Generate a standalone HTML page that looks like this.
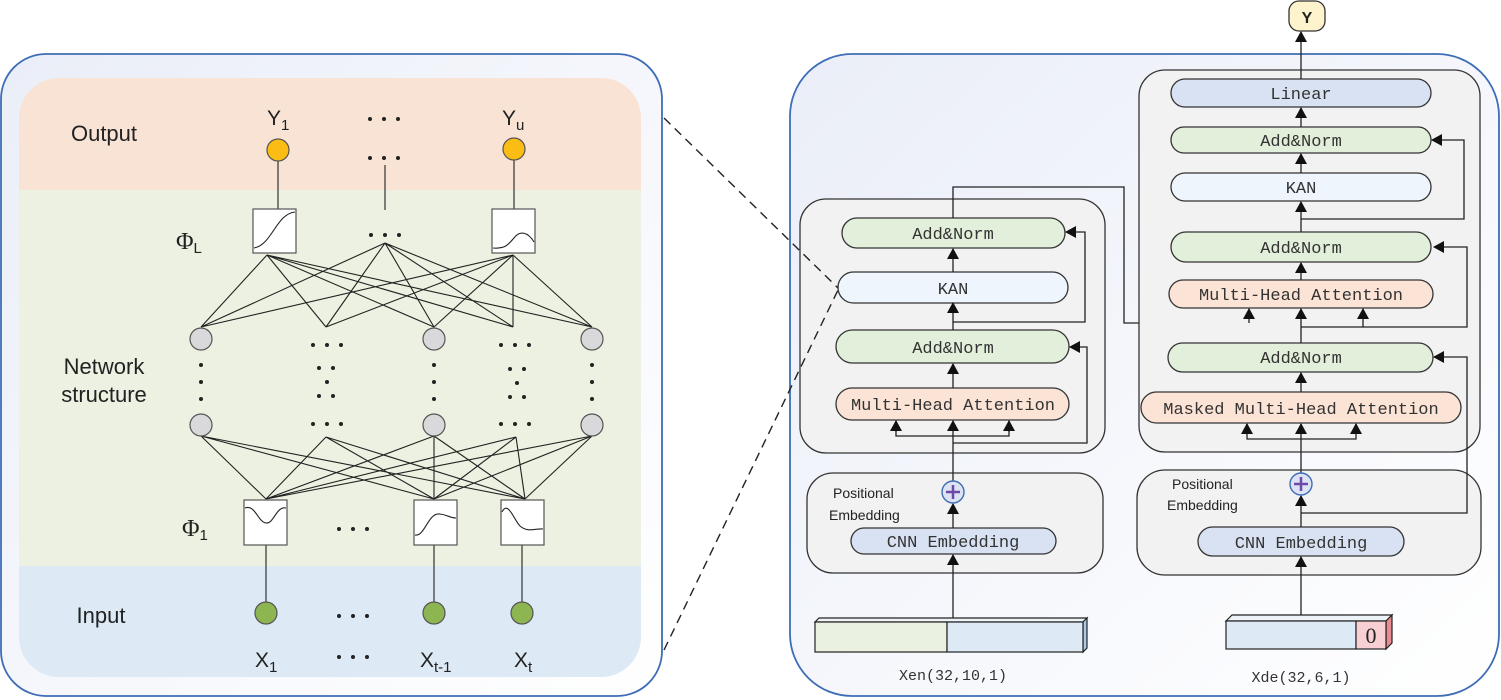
<!DOCTYPE html>
<html><head><meta charset="utf-8"><style>
html,body{margin:0;padding:0;background:#fff;}
svg{display:block;}
.pill{stroke:#333;stroke-width:1.3;}
.t{font-family:"Liberation Mono",monospace;font-size:17px;fill:#333;text-anchor:middle;}
.s{font-family:"Liberation Sans",sans-serif;}
</style></head><body>
<svg width="1501" height="700" viewBox="0 0 1501 700" xmlns="http://www.w3.org/2000/svg">
<defs>
<marker id="a" markerWidth="11" markerHeight="12" refX="10" refY="6" orient="auto" markerUnits="userSpaceOnUse"><path d="M0,0 L11,6 L0,12 z" fill="#111"/></marker>
<linearGradient id="bg" x1="0" y1="0" x2="1" y2="1"><stop offset="0" stop-color="#eaeef8"/><stop offset="1" stop-color="#ffffff"/></linearGradient>
<clipPath id="lc"><rect x="19" y="78" width="622" height="599" rx="40"/></clipPath>
<g id="d3"><circle cx="0" cy="0" r="2"/><circle cx="14" cy="0" r="2"/><circle cx="28" cy="0" r="2"/></g>
</defs>
<!-- LEFT PANEL -->
<rect x="1" y="54" width="661" height="642" rx="45" fill="url(#bg)" stroke="#3e6db5" stroke-width="1.8"/>
<g clip-path="url(#lc)">
<rect x="19" y="78" width="622" height="112" fill="#f9e3d5"/>
<rect x="19" y="190" width="622" height="376" fill="#ecf1e1"/>
<rect x="19" y="566" width="622" height="111" fill="#dde9f5"/>
</g>
<g class="s" fill="#222" font-size="22">
<text x="104" y="141" text-anchor="middle">Output</text>
<text x="104" y="374" text-anchor="middle">Network</text>
<text x="104" y="402" text-anchor="middle">structure</text>
<text x="101" y="623" text-anchor="middle">Input</text>
<text x="267" y="125" font-size="21">Y<tspan font-size="15" dy="5">1</tspan></text>
<text x="502" y="125" font-size="21">Y<tspan font-size="15" dy="5">u</tspan></text>
<text x="255" y="667" font-size="21">X<tspan font-size="15" dy="5">1</tspan></text>
<text x="420" y="667" font-size="21">X<tspan font-size="15" dy="5">t-1</tspan></text>
<text x="514" y="667" font-size="21">X<tspan font-size="15" dy="5">t</tspan></text>
</g>
<g font-family="Liberation Serif,serif" fill="#222" font-size="24">
<text x="176" y="249">Φ<tspan font-size="15" font-family="Liberation Sans,sans-serif" dy="4">L</tspan></text>
<text x="182" y="536">Φ<tspan font-size="15" font-family="Liberation Sans,sans-serif" dy="4">1</tspan></text>
</g>
<g fill="#222">
<use href="#d3" x="370" y="119"/><use href="#d3" x="370" y="158"/><use href="#d3" x="371" y="235"/>
<use href="#d3" x="313" y="345"/><use href="#d3" x="501" y="345"/>
<use href="#d3" x="313" y="424"/><use href="#d3" x="501" y="424"/>
<use href="#d3" x="339" y="529"/><use href="#d3" x="339" y="616"/><use href="#d3" x="339" y="657"/>
<circle cx="201" cy="365" r="2"/><circle cx="201" cy="382" r="2"/><circle cx="201" cy="399" r="2"/>
<circle cx="434" cy="365" r="2"/><circle cx="434" cy="382" r="2"/><circle cx="434" cy="399" r="2"/>
<circle cx="592" cy="365" r="2"/><circle cx="592" cy="382" r="2"/><circle cx="592" cy="399" r="2"/>
<circle cx="319" cy="368" r="2"/><circle cx="333" cy="368" r="2"/><circle cx="327" cy="382" r="2"/><circle cx="319" cy="396" r="2"/><circle cx="333" cy="396" r="2"/>
<circle cx="510" cy="369" r="2"/><circle cx="524" cy="369" r="2"/><circle cx="517" cy="383" r="2"/><circle cx="510" cy="397" r="2"/><circle cx="524" cy="397" r="2"/>
</g>
<g stroke="#222" stroke-width="1.1" fill="none">
<line x1="278" y1="158" x2="278" y2="209"/><line x1="514" y1="158" x2="514" y2="209"/><line x1="385" y1="165" x2="385" y2="210"/>
<line x1="266" y1="545" x2="266" y2="603"/><line x1="434" y1="545" x2="434" y2="603"/><line x1="522" y1="545" x2="522" y2="603"/>
<path d="M267,255L201,327M267,255L326,327M267,255L434,327M267,255L513,327M267,255L592,327
M385,243L201,327M385,243L326,327M385,243L434,327M385,243L513,327M385,243L592,327
M513,255L201,327M513,255L326,327M513,255L434,327M513,255L513,327M513,255L592,327"/>
<path d="M201,436L266,499M201,436L434,499M201,436L525,499
M326,437L266,499M326,437L434,499M326,437L525,499
M434,436L266,499M434,436L434,499M434,436L525,499
M516,437L266,499M516,437L434,499M516,437L525,499
M592,436L266,499M592,436L434,499M592,436L525,499"/>
</g>
<g stroke="#555" stroke-width="1.2">
<circle cx="278" cy="150" r="11" fill="#fbbd13"/><circle cx="514" cy="149" r="11" fill="#fbbd13"/>
<circle cx="201" cy="339" r="11" fill="#d9d9dc"/><circle cx="434" cy="339" r="11" fill="#d9d9dc"/><circle cx="592" cy="339" r="11" fill="#d9d9dc"/>
<circle cx="201" cy="425" r="11" fill="#d9d9dc"/><circle cx="434" cy="425" r="11" fill="#d9d9dc"/><circle cx="592" cy="425" r="11" fill="#d9d9dc"/>
<circle cx="266" cy="613" r="11" fill="#8db652"/><circle cx="434" cy="613" r="11" fill="#8db652"/><circle cx="522" cy="613" r="11" fill="#8db652"/>
<rect x="253" y="209" width="43" height="44" fill="#fff"/><rect x="492" y="209" width="43" height="44" fill="#fff"/>
<rect x="244" y="500" width="43" height="45" fill="#fff"/><rect x="414" y="500" width="43" height="45" fill="#fff"/><rect x="501" y="500" width="43" height="45" fill="#fff"/>
</g>
<g stroke="#222" stroke-width="1.1" fill="none">
<path d="M254,248 C272,245 276,214 295,212"/>
<path d="M493,248 C505,249 508,245 514,238 C520,230 528,232 534,242"/>
<path d="M245,508 C255,504 258,522 266,523 C274,524 276,506 286,508"/>
<path d="M415,535 C425,537 428,512 440,514 C448,515 450,518 456,518"/>
<path d="M502,512 C508,500 514,520 520,526 C528,533 536,528 543,529"/>
</g>
<!-- RIGHT PANEL -->
<rect x="790" y="54" width="709" height="642" rx="62" fill="url(#bg)" stroke="#3e6db5" stroke-width="1.8"/>
<!-- encoder -->
<rect x="800" y="199" width="305" height="254" rx="26" fill="#f2f2f2" stroke="#333" stroke-width="1.3"/>
<rect x="807" y="473" width="296" height="100" rx="26" fill="#f2f2f2" stroke="#333" stroke-width="1.3"/>
<rect x="842" y="218" width="223" height="30" rx="15" fill="#e2efda" class="pill"/>
<rect x="838" y="272" width="230" height="31" rx="15.5" fill="#eef5fd" class="pill"/>
<rect x="836" y="330" width="233" height="33" rx="16.5" fill="#e2efda" class="pill"/>
<rect x="836" y="388" width="233" height="32" rx="16" fill="#fbe3d6" class="pill"/>
<rect x="851" y="528" width="205" height="26" rx="13" fill="#d9e2f3" class="pill"/>
<text class="t" x="953" y="239">Add&amp;Norm</text>
<text class="t" x="953" y="294">KAN</text>
<text class="t" x="953" y="353">Add&amp;Norm</text>
<text class="t" x="953" y="410">Multi-Head Attention</text>
<text class="t" x="953" y="547">CNN Embedding</text>
<g class="s" font-size="14" fill="#222"><text x="833" y="498">Positional</text><text x="829" y="520">Embedding</text></g>
<g stroke="#222" stroke-width="1.3" fill="none">
<line x1="953" y1="620" x2="953" y2="555" marker-end="url(#a)"/>
<line x1="953" y1="528" x2="953" y2="504" marker-end="url(#a)"/>
<line x1="953" y1="481" x2="953" y2="421" marker-end="url(#a)"/>
<line x1="953" y1="388" x2="953" y2="364" marker-end="url(#a)"/>
<line x1="953" y1="330" x2="953" y2="303" marker-end="url(#a)"/>
<line x1="953" y1="272" x2="953" y2="249" marker-end="url(#a)"/>
<polyline points="896,421 896,436 1009,436 1009,421"/>
<line x1="896" y1="432" x2="896" y2="421" marker-end="url(#a)"/>
<line x1="1009" y1="432" x2="1009" y2="421" marker-end="url(#a)"/>
<polyline points="953,443 1087,443 1087,347 1070,347" marker-end="url(#a)"/>
<polyline points="953,322 1085,322 1085,232 1066,232" marker-end="url(#a)"/>
<polyline points="953,218 953,187 1124,187 1124,323 1301,323"/>
</g>
<circle cx="953" cy="492" r="11" fill="#dbe3f5" stroke="#3e6db5" stroke-width="1.4"/>
<path d="M946,492h14M953,485v14" stroke="#7048a8" stroke-width="2.5"/>
<path d="M815,622 L819,618 L1087,618 L1083,622 z" fill="#eef3f8" stroke="#222" stroke-width="1.2"/>
<path d="M1083,622 L1087,618 L1087,648 L1083,652 z" fill="#a9cbe8" stroke="#222" stroke-width="1.2"/>
<rect x="815" y="622" width="132" height="30" fill="#ebf1e0" stroke="#222" stroke-width="1.2"/>
<rect x="947" y="622" width="136" height="30" fill="#dde9f5" stroke="#222" stroke-width="1.2"/>
<text x="953" y="680" text-anchor="middle" font-family="Liberation Mono,monospace" font-size="15" fill="#333">Xen(32,10,1)</text>
<!-- decoder -->
<rect x="1139" y="70" width="341" height="382" rx="26" fill="#f2f2f2" stroke="#333" stroke-width="1.3"/>
<rect x="1137" y="470" width="344" height="105" rx="28" fill="#f2f2f2" stroke="#333" stroke-width="1.3"/>
<rect x="1171" y="79" width="260" height="28" rx="14" fill="#d9e2f3" class="pill"/>
<rect x="1171" y="127" width="260" height="26" rx="13" fill="#e2efda" class="pill"/>
<rect x="1171" y="173" width="260" height="28" rx="14" fill="#eef5fd" class="pill"/>
<rect x="1171" y="232" width="260" height="30" rx="15" fill="#e2efda" class="pill"/>
<rect x="1169" y="280" width="264" height="28" rx="14" fill="#fbe3d6" class="pill"/>
<rect x="1168" y="343" width="265" height="29" rx="14.5" fill="#e2efda" class="pill"/>
<rect x="1141" y="392" width="320" height="31" rx="15.5" fill="#fbe3d6" class="pill"/>
<rect x="1198" y="527" width="206" height="29" rx="14.5" fill="#d9e2f3" class="pill"/>
<text class="t" x="1301" y="99">Linear</text>
<text class="t" x="1301" y="146">Add&amp;Norm</text>
<text class="t" x="1301" y="193">KAN</text>
<text class="t" x="1301" y="253">Add&amp;Norm</text>
<text class="t" x="1301" y="300">Multi-Head Attention</text>
<text class="t" x="1301" y="363">Add&amp;Norm</text>
<text class="t" x="1301" y="414">Masked Multi-Head Attention</text>
<text class="t" x="1301" y="548">CNN Embedding</text>
<g class="s" font-size="14" fill="#222"><text x="1172" y="489">Positional</text><text x="1167" y="510">Embedding</text></g>
<g stroke="#222" stroke-width="1.3" fill="none">
<line x1="1301" y1="615" x2="1301" y2="557" marker-end="url(#a)"/>
<line x1="1301" y1="527" x2="1301" y2="496" marker-end="url(#a)"/>
<line x1="1301" y1="473" x2="1301" y2="424" marker-end="url(#a)"/>
<line x1="1301" y1="392" x2="1301" y2="373" marker-end="url(#a)"/>
<line x1="1301" y1="343" x2="1301" y2="309" marker-end="url(#a)"/>
<line x1="1301" y1="280" x2="1301" y2="263" marker-end="url(#a)"/>
<line x1="1301" y1="232" x2="1301" y2="202" marker-end="url(#a)"/>
<line x1="1301" y1="173" x2="1301" y2="154" marker-end="url(#a)"/>
<line x1="1301" y1="127" x2="1301" y2="108" marker-end="url(#a)"/>
<line x1="1301" y1="79" x2="1301" y2="32" marker-end="url(#a)"/>
<polyline points="1247,424 1247,439 1356,439 1356,424"/>
<line x1="1247" y1="434" x2="1247" y2="424" marker-end="url(#a)"/>
<line x1="1356" y1="434" x2="1356" y2="424" marker-end="url(#a)"/>
<line x1="1249" y1="323" x2="1249" y2="309" marker-end="url(#a)"/>
<polyline points="1301,327 1363,327 1363,309" marker-end="url(#a)"/>
<polyline points="1363,327 1467,327 1467,247 1434,247" marker-end="url(#a)"/>
<polyline points="1301,219 1464,219 1464,140 1432,140" marker-end="url(#a)"/>
<polyline points="1301,513 1467,513 1467,357 1434,357" marker-end="url(#a)"/>
</g>
<circle cx="1301" cy="484" r="11" fill="#dbe3f5" stroke="#3e6db5" stroke-width="1.4"/>
<path d="M1294,484h14M1301,477v14" stroke="#7048a8" stroke-width="2.5"/>
<rect x="1289" y="1" width="36" height="30" rx="10" fill="#fdf3cc" stroke="#333" stroke-width="1.3"/>
<text x="1307" y="23" text-anchor="middle" class="s" font-size="16" font-weight="bold" fill="#222">Y</text>
<path d="M1226,621 L1232,615 L1392,615 L1386,621 z" fill="#eef3f8" stroke="#222" stroke-width="1.2"/>
<path d="M1386,621 L1392,615 L1392,643 L1386,649 z" fill="#e88a8f" stroke="#222" stroke-width="1.2"/>
<rect x="1226" y="621" width="130" height="28" fill="#dde9f5" stroke="#222" stroke-width="1.2"/>
<rect x="1356" y="621" width="30" height="28" fill="#f8cfd3" stroke="#222" stroke-width="1.2"/>
<text x="1371" y="643" text-anchor="middle" font-family="Liberation Serif,serif" font-size="22" fill="#222">0</text>
<text x="1301" y="682" text-anchor="middle" font-family="Liberation Mono,monospace" font-size="15" fill="#333">Xde(32,6,1)</text>
<!-- dashed (drawn on top) -->
<g stroke="#222" stroke-width="1.4" stroke-dasharray="9,6" fill="none">
<line x1="664" y1="118" x2="838" y2="288"/><line x1="664" y1="650" x2="838" y2="290"/>
</g>
</svg>
</body></html>
